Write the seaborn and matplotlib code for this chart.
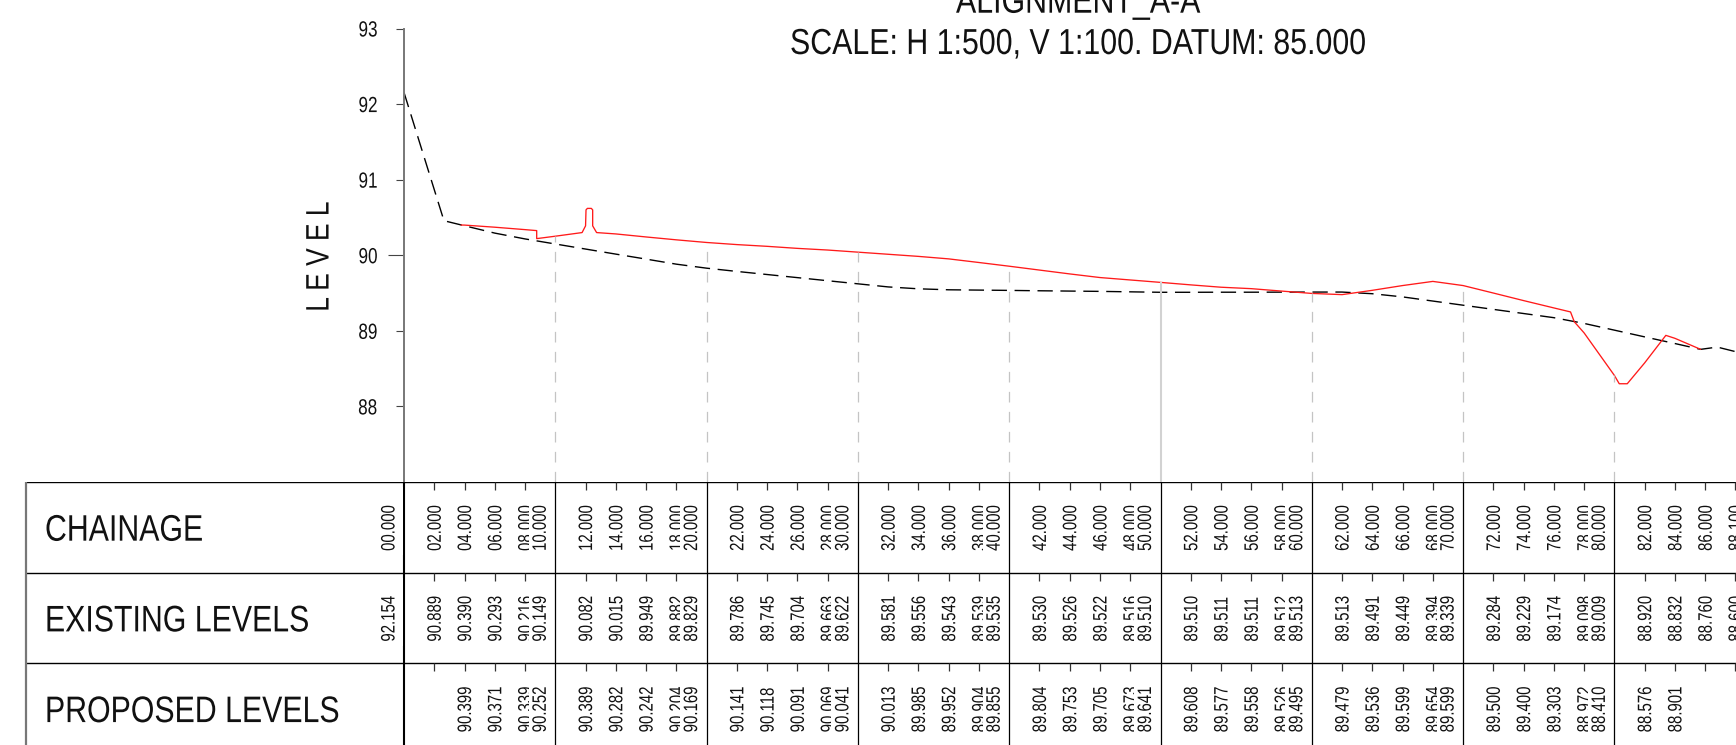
import numpy as np
import pandas as pd
import matplotlib.pyplot as plt
import matplotlib.patheffects as pe
from matplotlib.transforms import Affine2D
import seaborn as sns

tick_chainage = list(range(0, 90, 2))
chainage_labels = [
    "00.000", "02.000", "04.000", "06.000", "08.000", "10.000", "12.000", "14.000", "16.000", "18.000",
    "20.000", "22.000", "24.000", "26.000", "28.000", "30.000", "32.000", "34.000", "36.000", "38.000",
    "40.000", "42.000", "44.000", "46.000", "48.000", "50.000", "52.000", "54.000", "56.000", "58.000",
    "60.000", "62.000", "64.000", "66.000", "68.000", "70.000", "72.000", "74.000", "76.000", "78.000",
    "80.000", "82.000", "84.000", "86.000", "88.100",
]
existing_labels = [
    "92.154", "90.889", "90.390", "90.293", "90.216", "90.149", "90.082", "90.015", "89.949", "89.882",
    "89.829", "89.786", "89.745", "89.704", "89.663", "89.622", "89.581", "89.556", "89.543", "89.539",
    "89.535", "89.530", "89.526", "89.522", "89.516", "89.510", "89.510", "89.511", "89.511", "89.512",
    "89.513", "89.513", "89.491", "89.449", "89.394", "89.339", "89.284", "89.229", "89.174", "89.098",
    "89.009", "88.920", "88.832", "88.760", "88.600",
]
proposed_labels = [
    "", "", "90.399", "90.371", "90.339", "90.252", "90.389", "90.282", "90.242", "90.204",
    "90.169", "90.141", "90.118", "90.091", "90.069", "90.041", "90.013", "89.985", "89.952", "89.904",
    "89.855", "89.804", "89.753", "89.705", "89.673", "89.641", "89.608", "89.577", "89.558", "89.526",
    "89.495", "89.479", "89.536", "89.599", "89.654", "89.599", "89.500", "89.400", "89.303", "88.972",
    "88.410", "88.576", "88.901", "", "",
]
row_names = ["CHAINAGE", "EXISTING LEVELS", "PROPOSED LEVELS"]

existing_x = [0, 2.64, 4, 6, 8, 10, 12, 14, 16, 18, 20, 22, 24, 26, 28, 30, 32, 34, 36, 38, 40,
              42, 44, 46, 48, 50, 52, 54, 56, 58, 60, 62, 64, 66, 68, 70, 72, 74, 76, 78, 80,
              82, 84, 85.7, 86.8, 88.1]
existing_y = [92.154, 90.457, 90.390, 90.293, 90.216, 90.149, 90.082, 90.015, 89.949, 89.882, 89.829,
              89.786, 89.745, 89.704, 89.663, 89.622, 89.581, 89.556, 89.543, 89.539, 89.535,
              89.530, 89.526, 89.522, 89.516, 89.510, 89.510, 89.511, 89.511, 89.512, 89.513,
              89.513, 89.491, 89.449, 89.394, 89.339, 89.284, 89.229, 89.174, 89.098, 89.009,
              88.920, 88.832, 88.755, 88.785, 88.72]

proposed_x = [3.77, 4, 6, 8, 8.77, 8.77, 10, 11.77, 12, 12.03, 12.12, 12.38, 12.47, 12.47, 12.73,
              14, 16, 18, 20, 22, 24, 26, 28, 30, 32, 34, 36, 38, 40, 42, 44, 46, 48, 50,
              52, 54, 56, 58, 60, 62, 64, 66, 68, 70, 72, 74, 76, 77.1, 77.35, 78, 80,
              80.32, 80.85, 82, 83.4, 84, 85.7]
proposed_y = [90.400, 90.399, 90.371, 90.339, 90.326, 90.220, 90.252, 90.300, 90.389, 90.600, 90.620, 90.620,
              90.600, 90.389, 90.300, 90.282, 90.242, 90.204, 90.169, 90.141, 90.118, 90.091, 90.069,
              90.041, 90.013, 89.985, 89.952, 89.904, 89.855, 89.804, 89.753, 89.705, 89.673, 89.641,
              89.608, 89.577, 89.558, 89.526, 89.495, 89.479, 89.536, 89.599, 89.654, 89.599, 89.500,
              89.400, 89.303, 89.250, 89.120, 88.972, 88.410, 88.300, 88.300, 88.576, 88.940, 88.901, 88.755]

# Figure geometry in pixels
W, H = 1736, 745
PLOT_TOP, TABLE_TOP, ROW_H = 28.5, 482.0, 90.7
AXIS_X, TABLE_X = 404.0, 26.0
PX_PER_M = 15.13


class Condense(pe.AbstractPathEffect):
    # no narrow font installed, so squeeze the glyphs along the baseline
    def __init__(self, sx):
        super().__init__()
        self.sx = sx

    def draw_path(self, renderer, gc, tpath, affine, rgbFace=None):
        renderer.draw_path(gc, tpath, Affine2D().scale(self.sx, 1) + affine, rgbFace)


sns.set_theme(style="white")
plt.rcParams['font.family'] = ['Liberation Sans', 'DejaVu Sans']

fig = plt.figure(figsize=(W / 100, H / 100), dpi=100)
ax = fig.add_axes([AXIS_X / W, 1 - TABLE_TOP / H, 1 - AXIS_X / W, (TABLE_TOP - PLOT_TOP) / H])
tab = fig.add_axes([TABLE_X / W, 0, 1 - TABLE_X / W, 1 - TABLE_TOP / H])

# Profile lines
existing_df = pd.DataFrame({"chainage": existing_x, "level": existing_y})
proposed_df = pd.DataFrame({"chainage": proposed_x, "level": proposed_y})
sns.lineplot(data=existing_df, x="chainage", y="level", ax=ax, color="black", lw=1.0,
             estimator=None, sort=False, linestyle=(0, (11, 5.5)))
sns.lineplot(data=proposed_df, x="chainage", y="level", ax=ax, color="#ff1a1a", lw=0.95,
             estimator=None, sort=False)

# Drop lines from the proposed level at every 10 m
for ch, lab in zip(tick_chainage, proposed_labels):
    if ch % 10 == 0 and lab:
        if ch == 50:
            ax.vlines(ch, 87, float(lab), color="#d2d2d2", lw=1.5)
        else:
            ax.vlines(ch, 87, float(lab), color="#c4c4c4", lw=0.9, linestyles=[(0, (8.5, 7.5))])

xmax = (W - AXIS_X) / PX_PER_M
ax.set_xlim(0, xmax)
ax.set_ylim(87, 93)
ax.set_xticks([])
ax.set_yticks([88, 89, 90, 91, 92, 93])
ax.tick_params(axis="y", left=True, length=5.5, width=0.8, color="#444444", labelsize=15.8, pad=9.7,
               labelcolor="#111111")
ax.yaxis.get_major_ticks()[2].tick1line.set_markersize(11.5)
for lab in ax.get_yticklabels():
    lab.set_path_effects([Condense(0.78)])
ax.patch.set_alpha(0)
for side in ["top", "right", "bottom"]:
    ax.spines[side].set_visible(False)
ax.spines["left"].set_color("#777777")
ax.spines["left"].set_linewidth(1.4)
ax.set_xlabel("")
ax.set_ylabel("L E V E L", fontsize=23.4, color="#111111", path_effects=[Condense(0.81)])
ax.yaxis.set_label_coords(-0.0514, 0.525)

# Data table under the profile
tab.set_xlim(-(AXIS_X - TABLE_X) / PX_PER_M, xmax)
tab.set_ylim((H - TABLE_TOP) / ROW_H, 0)
tab.axis("off")
for r in range(3):
    tab.hlines(r, -(AXIS_X - TABLE_X) / PX_PER_M, xmax, color="black", lw=1.0)
tab.vlines(-(AXIS_X - TABLE_X) / PX_PER_M, 0, 3, color="#777777", lw=1.6, clip_on=False)

for ch in tick_chainage:
    if ch % 10 == 0:
        tab.vlines(ch, 0, 3, color="black", lw=1.5 if ch == 0 else 0.9)
    else:
        for r in range(3):
            tab.vlines(ch, r, r + 0.088, color="#333333", lw=0.9)

for r, name in enumerate(row_names):
    tab.text(-23.73, r + 0.647, name, fontsize=26.6, color="#111111", va="baseline", ha="left",
             path_effects=[Condense(0.82)])

for r, labels in enumerate([chainage_labels, existing_labels, proposed_labels]):
    for ch, lab in zip(tick_chainage, labels):
        if not lab:
            continue
        on_ten = ch % 10 == 0
        # labels on the 10 m lines sit left of the line, blanking what is under them
        tab.annotate(lab, xy=(ch, r + 0.76), xytext=(-14 if on_ten else 2, 0),
                     textcoords="offset pixels", rotation=90, ha="center", va="bottom",
                     fontsize=14, color="#111111", path_effects=[Condense(0.77)],
                     bbox=dict(facecolor="white", edgecolor="none", pad=3.0) if on_ten else None)

# Title, first line runs off the top of the sheet
fig.text(956 / W, 1 - 12.7 / H, "ALIGNMENT_A-A", ha="left", va="baseline", fontsize=26, color="#111111",
         path_effects=[Condense(0.84)])
fig.text(790 / W, 1 - 54 / H, "SCALE: H 1:500, V 1:100. DATUM: 85.000", ha="left", va="baseline",
         fontsize=26, color="#111111", path_effects=[Condense(0.84)])

fig.savefig("out.png", dpi=100, facecolor="white")
plt.close(fig)
